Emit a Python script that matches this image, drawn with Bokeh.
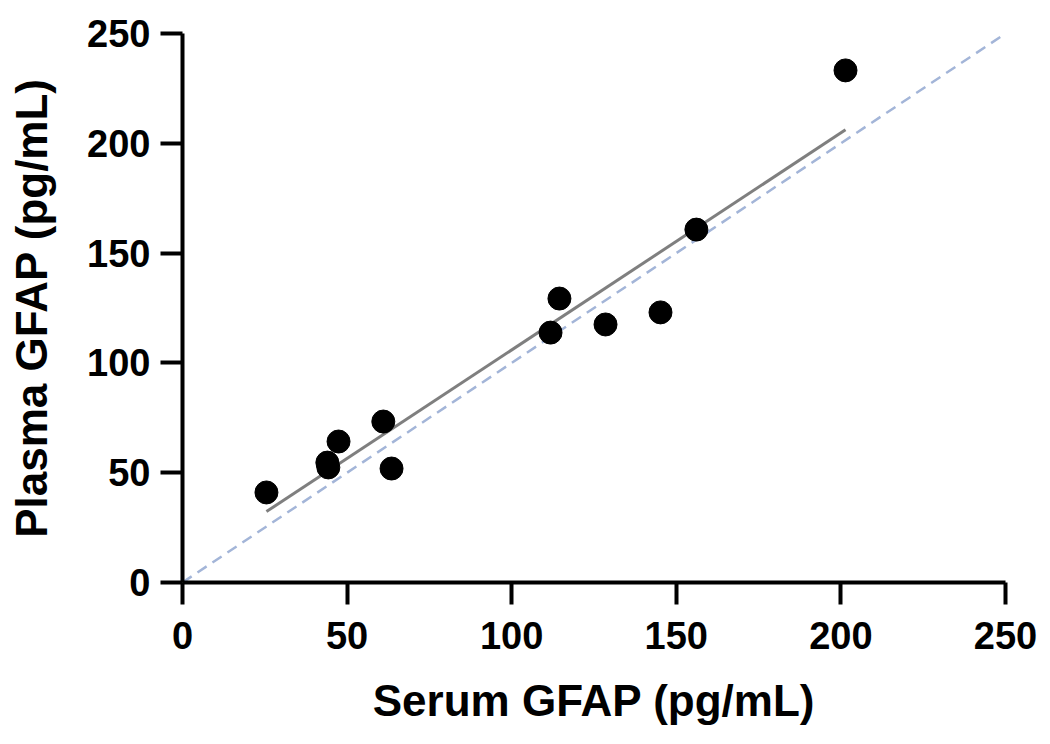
import numpy as np
from bokeh.plotting import figure
from bokeh.models import FixedTicker, Range1d
from bokeh.embed import file_html
from bokeh.resources import INLINE

serum_gfap = [25.5, 44.0, 44.3, 47.4, 61.0, 63.5, 111.8, 114.5, 128.5, 145.2, 156.1, 201.4]
plasma_gfap = [41.0, 54.6, 52.4, 64.2, 73.3, 51.9, 113.8, 129.3, 117.5, 123.0, 160.7, 233.2]
tick_values = [0, 50, 100, 150, 200, 250]
axis_min, axis_max = 0, 250

FONT = "Liberation Sans"

p = figure(width=1042, height=736, output_backend="svg", toolbar_location=None,
           x_range=Range1d(axis_min, axis_max), y_range=Range1d(axis_min, axis_max),
           min_border_left=182, min_border_right=37, min_border_top=33, min_border_bottom=154)
p.outline_line_color = None
p.grid.visible = False
p.background_fill_color = "white"
p.border_fill_color = "white"

for ax in (p.xaxis[0], p.yaxis[0]):
    ax.ticker = FixedTicker(ticks=tick_values)
    ax.minor_tick_line_color = None
    ax.axis_line_width = 4
    ax.axis_line_color = "black"
    ax.major_tick_line_width = 4
    ax.major_tick_line_color = "black"
    ax.major_tick_out = 22
    ax.major_tick_in = 0
    ax.major_label_text_font = FONT
    ax.major_label_text_font_style = "bold"
    ax.major_label_text_font_size = "38px"
    ax.major_label_text_color = "black"
    ax.axis_label_text_font = FONT
    ax.axis_label_text_font_style = "bold"
    ax.axis_label_text_font_size = "44px"
    ax.axis_label_text_color = "black"

p.xaxis.axis_label = "Serum GFAP (pg/mL)"
p.yaxis.axis_label = "Plasma GFAP (pg/mL)"
p.xaxis.major_label_standoff = 17
p.yaxis.major_label_standoff = 10
p.xaxis.axis_label_standoff = 24
p.yaxis.axis_label_standoff = 28

# identity line
p.line(x=[axis_min, axis_max], y=[axis_min, axis_max], line_color="#a3b5d8",
       line_width=2.5, line_dash="11 7")

# linear regression
xs = np.array(serum_gfap)
ys = np.array(plasma_gfap)
slope, intercept = np.polyfit(xs, ys, 1)
fx = np.array([xs.min(), xs.max()])
p.line(x=fx, y=slope * fx + intercept, line_color="#7f7f7f", line_width=3)

p.scatter(x=serum_gfap, y=plasma_gfap, size=23, marker="circle",
          fill_color="black", line_color="black")

open("out.html", "w").write(file_html(p, INLINE))
